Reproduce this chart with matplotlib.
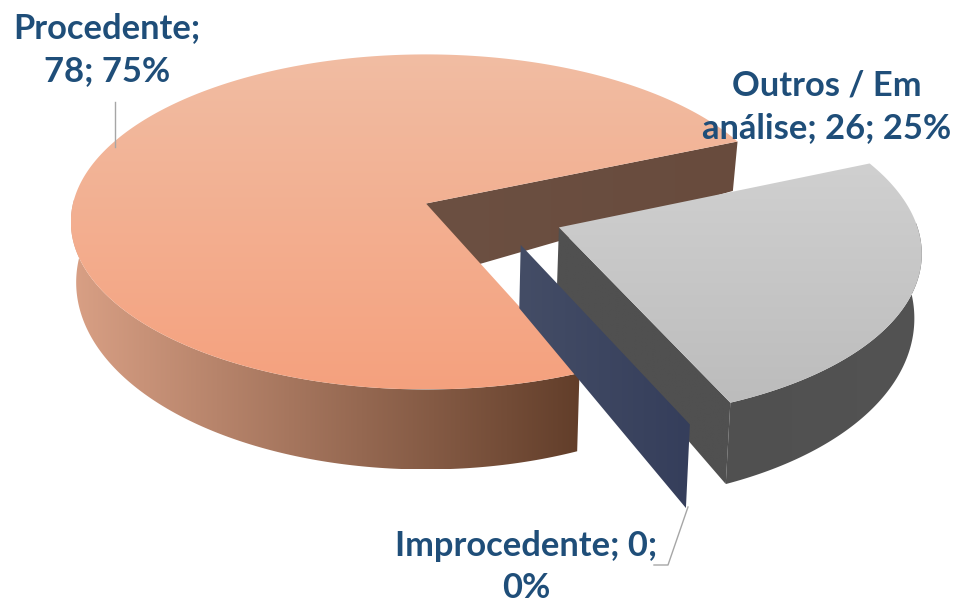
import numpy as np
import matplotlib
matplotlib.use("Agg")
import matplotlib.pyplot as plt
from matplotlib.patches import PathPatch
from matplotlib.path import Path
from matplotlib.colors import LinearSegmentedColormap as LSC

categories = ["Procedente", "Improcedente", "Outros / Em análise"]
values = [78, 0, 26]
percents = [75, 0, 25]
label_lines = ["Procedente;\n78; 75%", "Improcedente; 0;\n0%", "Outros / Em\nanálise; 26; 25%"]

START = 23.0
CX, CY, RX, RY, K = 426.0, 203.5, 353.0, 165.5, 0.11
EXPLODE = [(0.0, 0.0), (0.357, -43.0), (0.397, -21.0)]

fig = plt.figure(figsize=(9.59, 6.03), dpi=100)
ax = fig.add_axes([0, 0, 1, 1])

def proj(phi, r=1.0, ex=(0, 0), low=False):
    phi = np.radians(phi)
    u = r*np.cos(phi) + ex[0]*np.cos(np.radians(ex[1]))
    v = r*np.sin(phi) + ex[0]*np.sin(np.radians(ex[1]))
    w = 1 + K*v
    x, y = RX*u/w, -RY*v/w
    if low:
        x = x*0.985
        y = y + 58.0 - 22.0*v
    return CX + x, CY + y

def grad(poly, c0, c1, horizontal, z):
    poly = np.column_stack(poly)
    patch = PathPatch(Path(np.vstack([poly, poly[:1]]), closed=True), fc="none", ec="none")
    ax.add_patch(patch)
    x0, x1, y0, y1 = poly[:, 0].min(), poly[:, 0].max(), poly[:, 1].min(), poly[:, 1].max()
    g = np.linspace(0, 1, 256)
    g = g.reshape(1, -1) if horizontal else g.reshape(-1, 1)
    cm = LSC.from_list("g", [c0, c1])
    im = ax.imshow(g, extent=[x0, x1, y1, y0], cmap=cm, vmin=0, vmax=1, aspect="auto", zorder=z, interpolation="bilinear")
    im.set_clip_path(patch)

def slice_angles():
    total = sum(values); a = START; out = []
    for val in values:
        b = a + 360*val/total
        out.append((a, b)); a = b
    return out

angs = slice_angles()

def top_poly(a, b, ex):
    t = np.linspace(a, b, 300)
    x, y = proj(t, 1.0, ex)
    ax0, ay0 = proj(0.0, 0.0, ex)
    return np.r_[ax0, x], np.r_[ay0, y]

def side_poly(a, b, ex):
    t = np.linspace(a, b, 400)
    t = t[np.sin(np.radians(t)) <= 0.03]   # only the near rim is seen
    x, y = proj(t, 1.0, ex)
    xl, yl = proj(t, 1.0, ex, True)
    return np.r_[x, xl[::-1]], np.r_[y, yl[::-1]]

def wall_poly(phi, ex, drop=0.0):
    x1, y1 = proj(0.0, 0.0, ex)
    x2, y2 = proj(phi, 1.0, ex)
    x3, y3 = proj(phi, 1.0, ex, True)
    x4, y4 = proj(0.0, 0.0, ex, True)
    return np.array([x1, x2, x3, x4]), np.array([y1, y2, y3, y4 + drop])

# Procedente
a, b = angs[0]; ex = EXPLODE[0]
grad(wall_poly(a, ex, drop=18.0), "#6C5042", "#684B3D", True, 1)
grad(side_poly(a, b, ex), "#D9A085", "#623E2A", True, 2)
grad(top_poly(a, b, ex), "#F1BDA3", "#F5A17E", False, 3)

# Outros
a, b = angs[2]; ex = EXPLODE[2]
grad(wall_poly(a, ex), "#505050", "#505050", True, 4)
grad(side_poly(a, b, ex), "#505050", "#535353", True, 4)
grad(top_poly(a, b, ex), "#D0D0D0", "#BCBCBC", False, 5)

# Improcedente (zero-size slice, one flat panel)
a, b = angs[1]; ex = EXPLODE[1]
grad(wall_poly(a, ex), "#444D66", "#353E5B", True, 6)

ax.set_xlim(0, 959); ax.set_ylim(603, 0); ax.axis("off")

line = "#A6A6A6"
ax.plot([115, 115], [102, 147], color=line, lw=1, zorder=7)
ax.plot([688, 668, 654], [507, 565, 565], color=line, lw=1, zorder=7)

font = dict(family=["Lato", "DejaVu Sans"], fontweight="bold", color="#1F4E79", fontsize=24.8,
            ha="center", va="center", linespacing=1.42, zorder=8)
ax.text(107, 50, label_lines[0], **font)
ax.text(827, 107, label_lines[2], **font)
ax.text(526, 567, label_lines[1], **font)

fig.savefig("out.png", dpi=100)
